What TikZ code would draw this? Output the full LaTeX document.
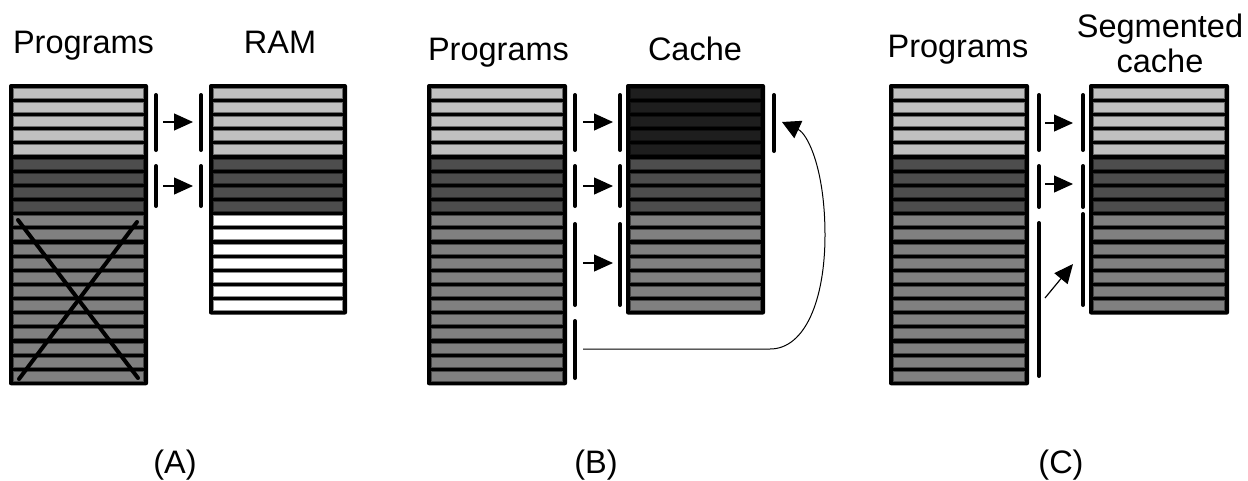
\documentclass[tikz,border=0pt]{standalone}
\usepackage{fontspec}
\setmainfont{Liberation Sans}
\usetikzlibrary{arrows.meta}

\definecolor{barlight}{HTML}{C0C0C0}
\definecolor{bardark}{HTML}{4D4D4D}
\definecolor{barmid}{HTML}{808080}
\definecolor{barblack}{HTML}{1E1E1E}

% memory stack: x left, x right, number of rows, row fills
\newcommand\memstack[4]{%
  \fill[black, rounded corners=2] (#1,84) rectangle (#2,{84+#3*14.15+4.15});
  \foreach \c [count=\i from 0] in {#4}
    \draw[draw=\c!55!black, line width=0.6, fill=\c]
      ({#1+4.5},{88.15+\i*14.15}) rectangle ({#2-4.5},{98.15+\i*14.15});
}

\tikzset{
  lbl/.style={font=\fontsize{32.5}{35}\selectfont, inner sep=0, anchor=base},
  bracket/.style={line width=4, line cap=round},
  flow/.style={line width=1.2, -{Triangle[length=19,width=17]}},
  loop/.style={line width=1, -{Triangle[length=18,width=19]}},
  cross/.style={line width=4, line cap=round}
}

\begin{document}
\begin{tikzpicture}[x=1pt, y=-1pt]
\useasboundingbox (0,0) rectangle (1248,480);

% ---------- panel A ----------
\node[lbl] (progA) at (83.5,53) {Programs};
\node[lbl] (ramA) at (280,53) {RAM};
\memstack{9}{148}{21}{barlight,barlight,barlight,barlight,barlight,bardark,bardark,bardark,bardark,barmid,barmid,barmid,barmid,barmid,barmid,barmid,barmid,barmid,barmid,barmid,barmid}
\memstack{209}{347}{16}{barlight,barlight,barlight,barlight,barlight,bardark,bardark,bardark,bardark,white,white,white,white,white,white,white}
\draw[cross] (18,220) -- (138,378);
\draw[cross] (137,222) -- (19,379);
\draw[bracket] (156,95) -- (156,150);
\draw[bracket] (201,95) -- (201,150);
\draw[bracket] (156,166) -- (156,206);
\draw[bracket] (201,166) -- (201,206);
\coordinate (a1s) at (163,122); \coordinate (a1e) at (193,122);
\coordinate (a2s) at (163,186); \coordinate (a2e) at (193,186);
\draw[flow] (a1s) -- (a1e);
\draw[flow] (a2s) -- (a2e);
\node[lbl] (capA) at (175,473) {(A)};

% ---------- panel B ----------
\node[lbl] (progB) at (498.5,60) {Programs};
\node[lbl] (cacheB) at (695,60) {Cache};
\memstack{427}{567}{21}{barlight,barlight,barlight,barlight,barlight,bardark,bardark,bardark,bardark,barmid,barmid,barmid,barmid,barmid,barmid,barmid,barmid,barmid,barmid,barmid,barmid}
\memstack{626}{765}{16}{barblack,barblack,barblack,barblack,barblack,bardark,bardark,bardark,bardark,barmid,barmid,barmid,barmid,barmid,barmid,barmid}
\draw[bracket] (575,95) -- (575,150);
\draw[bracket] (620,95) -- (620,150);
\draw[bracket] (575,166) -- (575,206);
\draw[bracket] (620,166) -- (620,206);
\draw[bracket] (575,224) -- (575,305);
\draw[bracket] (620,224) -- (620,305);
\draw[bracket] (575,321) -- (575,378);
\draw[bracket] (774,95) -- (774,151);
\coordinate (b1s) at (583,122); \coordinate (b1e) at (613,122);
\coordinate (b2s) at (583,186); \coordinate (b2e) at (613,186);
\coordinate (b3s) at (583,263); \coordinate (b3e) at (613,263);
\draw[flow] (b1s) -- (b1e);
\draw[flow] (b2s) -- (b2e);
\draw[flow] (b3s) -- (b3e);
\coordinate (b4s) at (583,349); \coordinate (b4e) at (782,122);
\draw[loop] (b4s) -- (770,349) .. controls (805,349) and (825,300) .. (825,235)
  .. controls (825,170) and (808,134) .. (b4e);
\node[lbl] (capB) at (596,473) {(B)};

% ---------- panel C ----------
\node[lbl] (progC) at (958,57) {Programs};
\node[lbl, align=center] (segC) at (1160,72) {Segmented\\cache};
\memstack{889}{1029}{21}{barlight,barlight,barlight,barlight,barlight,bardark,bardark,bardark,bardark,barmid,barmid,barmid,barmid,barmid,barmid,barmid,barmid,barmid,barmid,barmid,barmid}
\memstack{1089}{1229}{16}{barlight,barlight,barlight,barlight,barlight,bardark,bardark,bardark,bardark,barmid,barmid,barmid,barmid,barmid,barmid,barmid}
\draw[bracket] (1039,95) -- (1039,150);
\draw[bracket] (1083,95) -- (1083,150);
\draw[bracket] (1039,166) -- (1039,207);
\draw[bracket] (1083,166) -- (1083,207);
\draw[bracket] (1039,223) -- (1039,376);
\draw[bracket] (1083,214) -- (1083,305);
\coordinate (c1s) at (1045,123); \coordinate (c1e) at (1073,123);
\coordinate (c2s) at (1045,184); \coordinate (c2e) at (1073,184);
\coordinate (c3s) at (1045,298); \coordinate (c3e) at (1073,264);
\draw[flow] (c1s) -- (c1e);
\draw[flow] (c2s) -- (c2e);
\draw[flow] (c3s) -- (c3e);
\node[lbl] (capC) at (1061,473) {(C)};
\end{tikzpicture}
\end{document}
